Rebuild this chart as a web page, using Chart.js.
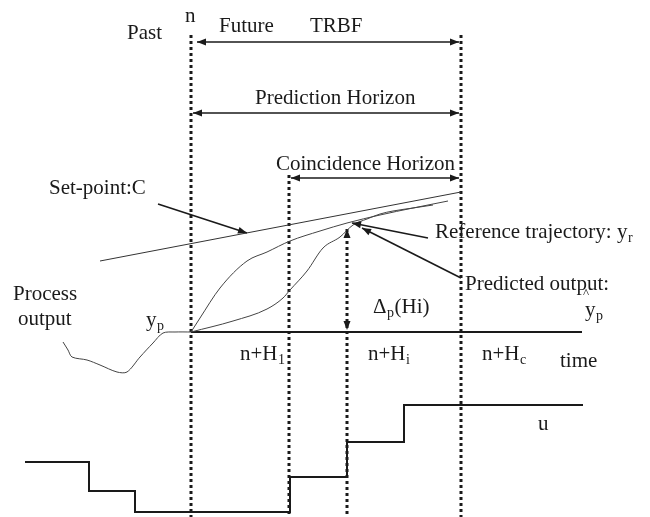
<!DOCTYPE html>
<html>
<head>
<meta charset="utf-8">
<script src="https://cdn.jsdelivr.net/npm/chart.js@4.4.0/dist/chart.umd.min.js"></script>
<style>
  html, body { margin: 0; padding: 0; background: #fff; }
</style>
</head>
<body>
<canvas id="diagram" width="650" height="517"></canvas>
<script>
// Diagram units: x = time position, y = level (drawn top-down)
const markN = 191, markH1 = 289, markHi = 347, markHc = 461;

const setPoint = [[100, 261], [461, 192]];
const referenceTrajectory = [[191, 332], [200, 318], [220, 288], [247, 261], [267, 252], [290, 241],
  [320, 231], [347, 223], [380, 215], [413, 208], [448, 201]];
const predictedOutput = [[191, 332], [233, 321], [267, 309], [283, 298], [290, 290], [307, 271],
  [323, 248], [340, 237], [353, 225], [367, 219], [380, 214], [393, 211], [413, 208], [433, 205]];
const processOutput = [[63, 342], [68, 350], [72, 357], [87, 360], [100, 365], [117, 372], [127, 372],
  [140, 357], [153, 343], [163, 333], [175, 332], [191, 332]];
const timeAxis = [[191, 332], [582, 332]];
const controlSignal = [[25, 462], [89, 491], [135, 512], [290, 477], [347, 442], [404, 405], [583, 405]];

// dotted verticals: [x, top]
const verticals = [[markN, 35], [markH1, 175], [markHi, 229], [markHc, 35]];
const bottom = 517;

// arrows: [from, to, bothEnds, drawShaft]
const arrows = [
  [[197, 42], [459, 42], true, true],
  [[193, 113], [459, 113], true, true],
  [[291, 178], [459, 178], true, true],
  [[347, 330], [347, 229], true, false],
  [[158, 204], [247, 233], false, true],
  [[428, 238], [352, 223], false, true],
  [[461, 278], [362, 228], false, true]
];

// labels: parts are plain text or {sub: '...'}
const labels = [
  { x: 185, y: 22, parts: ['n'] },
  { x: 127, y: 39, parts: ['Past'] },
  { x: 219, y: 32, parts: ['Future'] },
  { x: 310, y: 32, parts: ['TRBF'] },
  { x: 255, y: 104, parts: ['Prediction Horizon'] },
  { x: 276, y: 170, parts: ['Coincidence Horizon'] },
  { x: 49, y: 194, parts: ['Set-point:C'] },
  { x: 435, y: 238, parts: ['Reference trajectory: y', { sub: 'r' }] },
  { x: 465, y: 290, parts: ['Predicted output:'] },
  { x: 585, y: 316, parts: ['y', { sub: 'p' }] },
  { x: 373, y: 313, parts: ['\u0394', { sub: 'p' }, '(Hi)'] },
  { x: 13, y: 300, parts: ['Process'] },
  { x: 18, y: 325, parts: ['output'] },
  { x: 146, y: 326, parts: ['y', { sub: 'p' }] },
  { x: 240, y: 360, parts: ['n+H', { sub: '1' }] },
  { x: 368, y: 360, parts: ['n+H', { sub: 'i' }] },
  { x: 482, y: 360, parts: ['n+H', { sub: 'c' }] },
  { x: 560, y: 367, parts: ['time'] },
  { x: 538, y: 430, parts: ['u'] }
];

const FONT = '"Liberation Serif", "Times New Roman", serif';
const ink = '#1a1a1a';

function pts(list) {
  return list.map(([x, y]) => ({ x, y }));
}

function line(list, extra) {
  return Object.assign({
    data: pts(list),
    showLine: true,
    pointRadius: 0,
    borderColor: ink,
    borderWidth: 1,
    fill: false,
    clip: false
  }, extra);
}

const datasets = [
  line(setPoint, { borderColor: '#333' }),
  line(referenceTrajectory, { borderColor: '#444', cubicInterpolationMode: 'monotone' }),
  line(predictedOutput, { borderColor: '#444', cubicInterpolationMode: 'monotone' }),
  line(processOutput, { borderColor: '#444', tension: 0.3 }),
  line(timeAxis, { borderWidth: 2 }),
  line(controlSignal, { borderWidth: 2, stepped: 'before' })
];

verticals.forEach(([x, top]) => {
  datasets.push(line([[x, top], [x, bottom]], { borderWidth: 3, borderDash: [3, 3] }));
});
arrows.forEach(([a, b, both, shaft]) => {
  if (shaft) datasets.push(line([a, b], { borderWidth: 1.6 }));
});

function head(ctx, from, to) {
  const ang = Math.atan2(to.y - from.y, to.x - from.x);
  const len = 9, half = 3.5;
  ctx.beginPath();
  ctx.moveTo(to.x, to.y);
  ctx.lineTo(to.x - len * Math.cos(ang) + half * Math.sin(ang), to.y - len * Math.sin(ang) - half * Math.cos(ang));
  ctx.lineTo(to.x - len * Math.cos(ang) - half * Math.sin(ang), to.y - len * Math.sin(ang) + half * Math.cos(ang));
  ctx.closePath();
  ctx.fill();
}

const annotate = {
  id: 'annotate',
  afterDatasetsDraw(chart) {
    const { ctx, scales } = chart;
    const px = ([x, y]) => ({ x: scales.x.getPixelForValue(x), y: scales.y.getPixelForValue(y) });
    ctx.save();
    ctx.fillStyle = ink;
    arrows.forEach(([a, b, both]) => {
      const p = px(a), q = px(b);
      head(ctx, p, q);
      if (both) head(ctx, q, p);
    });

    ctx.textBaseline = 'alphabetic';
    labels.forEach(l => {
      const p = px([l.x, l.y]);
      let x = p.x;
      l.parts.forEach(part => {
        if (typeof part === 'string') {
          ctx.font = '21px ' + FONT;
          ctx.fillText(part, x, p.y);
          x += ctx.measureText(part).width;
        } else {
          ctx.font = '14px ' + FONT;
          ctx.fillText(part.sub, x + 0.5, p.y + 4);
          x += ctx.measureText(part.sub).width + 1;
        }
      });
    });
    // hat over predicted y
    const h = px([583, 297]);
    ctx.font = '13px ' + FONT;
    ctx.fillText('^', h.x, h.y);
    ctx.restore();
  }
};

new Chart(document.getElementById('diagram').getContext('2d'), {
  type: 'scatter',
  data: { datasets },
  options: {
    responsive: false,
    animation: false,
    layout: { padding: 0 },
    plugins: { legend: { display: false }, tooltip: { enabled: false } },
    scales: {
      x: { type: 'linear', min: 0, max: 650, display: false },
      y: { type: 'linear', min: 0, max: 517, reverse: true, display: false }
    }
  },
  plugins: [annotate]
});
</script>
</body>
</html>
